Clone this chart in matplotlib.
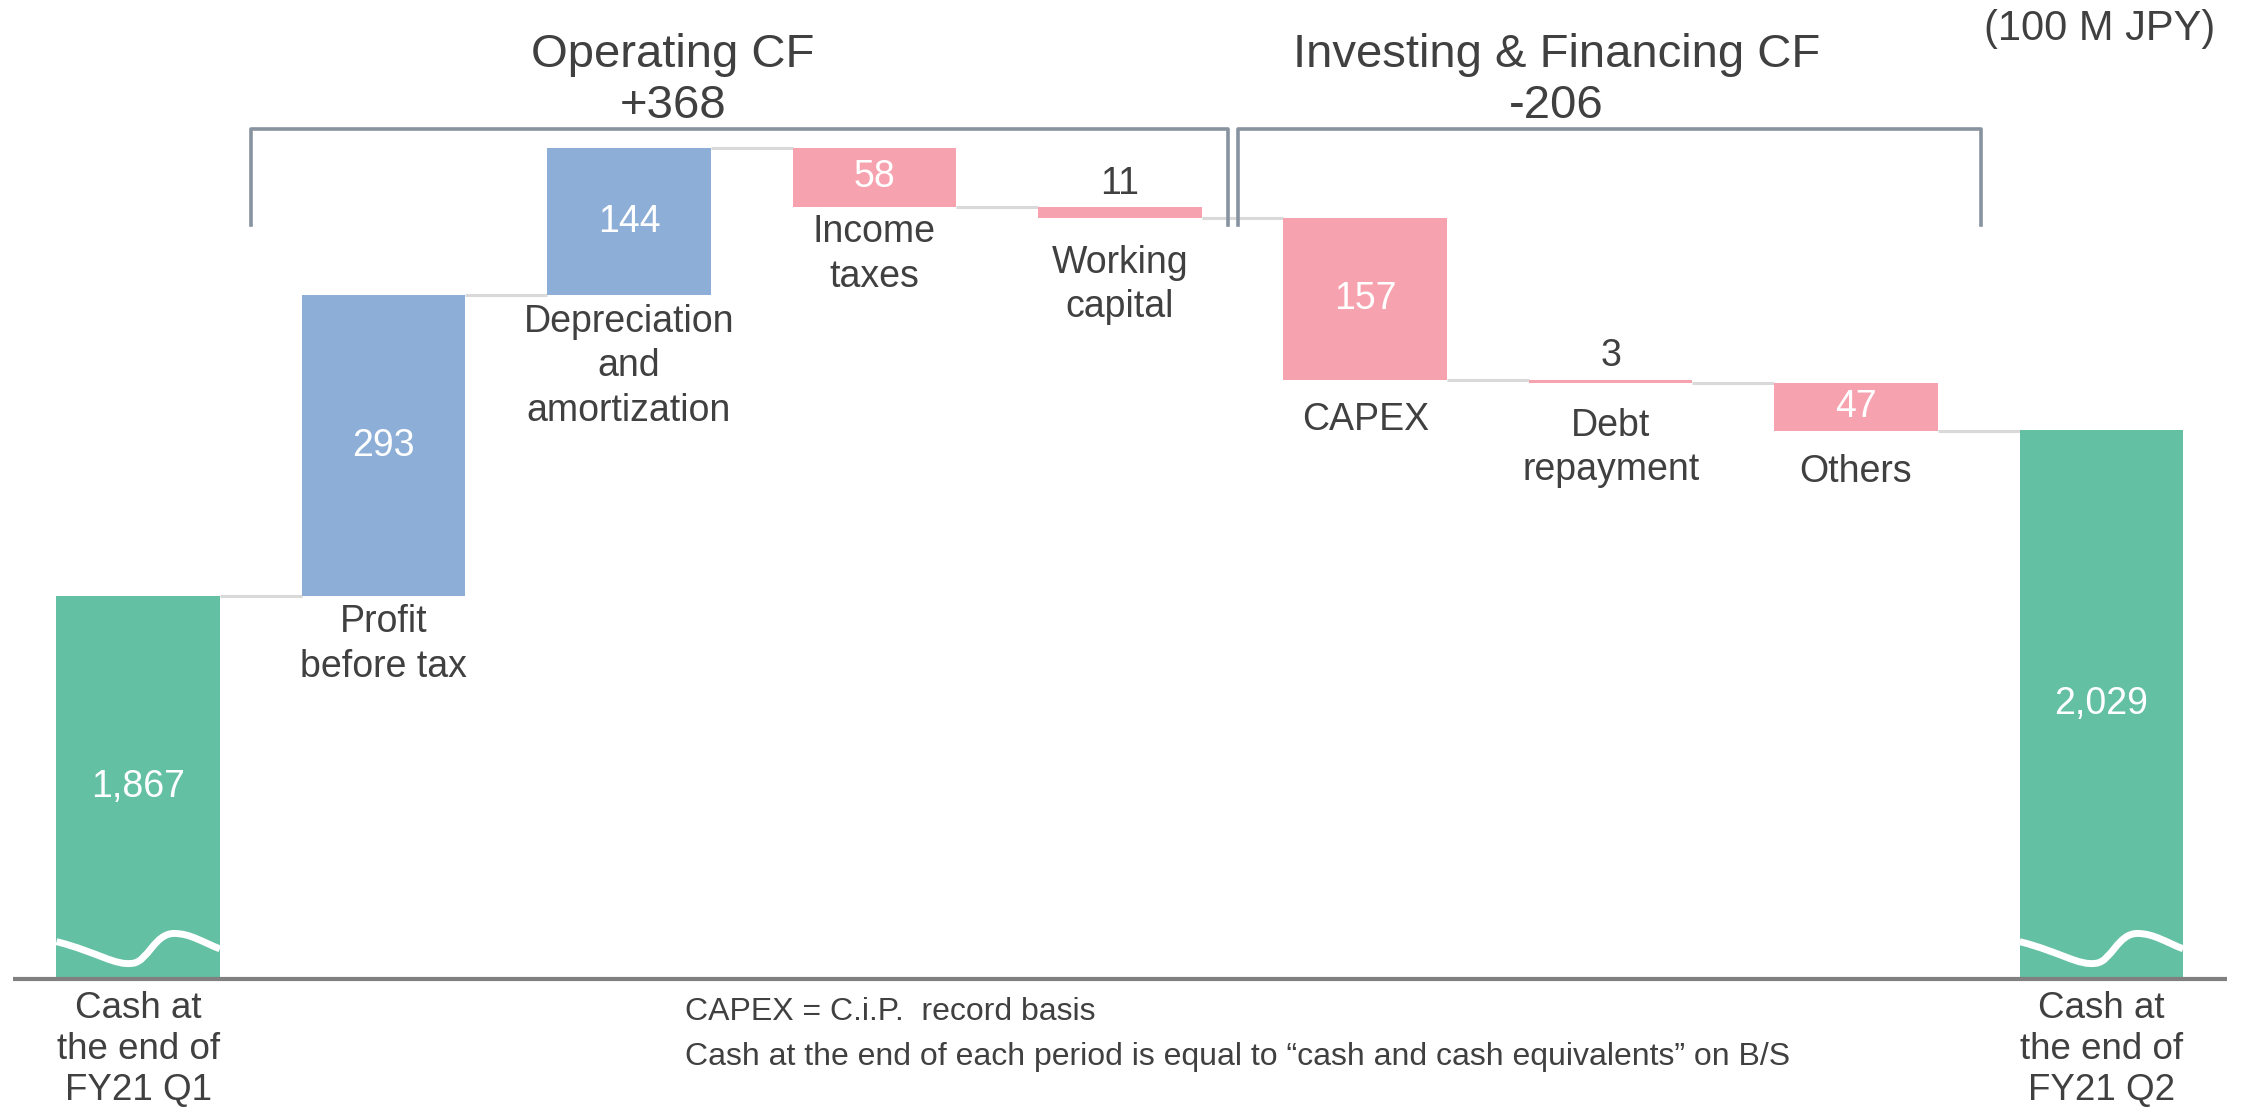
import matplotlib
matplotlib.use('Agg')
import matplotlib.pyplot as plt
from matplotlib.path import Path
from matplotlib.patches import PathPatch
import numpy as np

plt.rcParams['font.family'] = ['Liberation Sans', 'DejaVu Sans']

# data
categories = ['Cash at\nthe end of\nFY21 Q1', 'Profit\nbefore tax', 'Depreciation\nand\namortization',
              'Income\ntaxes', 'Working\ncapital', 'CAPEX', 'Debt\nrepayment', 'Others',
              'Cash at\nthe end of\nFY21 Q2']
values = [1867, 293, 144, -58, -11, -157, -3, -47, 2029]
value_labels = ['1,867', '293', '144', '58', '11', '157', '3', '47', '2,029']
kinds = ['total', 'up', 'up', 'down', 'down', 'down', 'down', 'down', 'total']
groups = [('Operating CF\n+368', 1, 4), ('Investing & Financing CF\n-206', 5, 7)]
unit_label = '(100 M JPY)'
notes = ['CAPEX = C.i.P.  record basis',
         'Cash at the end of each period is equal to \u201ccash and cash equivalents\u201d on B/S']

green = '#64C0A3'
blue = '#8DAFD7'
pink = '#F7A3AF'
txt = '#404040'
bracket_c = '#8893A0'
conn_c = '#D9D9D9'

base = 1494
width = 0.666

fig = plt.figure(figsize=(22.46, 11.15), dpi=100)
ax = fig.add_axes([0, 0, 1, 1])
ax.set_xlim(-0.563, 8.589)
ax.set_ylim(1361, 2448)
ax.axis('off')

x = np.arange(len(values))
bottoms, tops = [], []
run = 0
for v, k in zip(values, kinds):
    if k == 'total':
        bottoms.append(base); tops.append(v); run = v
    else:
        lo, hi = sorted([run, run + v])
        bottoms.append(lo); tops.append(hi); run += v

colors = [green if k == 'total' else (blue if k == 'up' else pink) for k in kinds]
heights = [t - b for t, b in zip(tops, bottoms)]
ax.bar(x, heights, bottom=bottoms, width=width, color=colors, zorder=2)

# connectors
levels = []
run = 0
for v, k in zip(values, kinds):
    run = v if k == 'total' else run + v
    levels.append(run)
for i in range(len(values) - 1):
    ax.plot([x[i] + width / 2, x[i + 1] - width / 2], [levels[i], levels[i]],
            color=conn_c, lw=2.2, zorder=1, solid_capstyle='butt')

# baseline
ax.plot([-0.51, 8.51], [base, base], color='#808080', lw=3, zorder=3, solid_capstyle='butt')

# broken-axis wave on total bars
for i in [0, len(values) - 1]:
    x0 = x[i] - width / 2
    pts = [(0, 36), (0.25, 26), (0.36, 12), (0.47, 15),
           (0.56, 17), (0.6, 44), (0.72, 44),
           (0.82, 44), (0.9, 35), (1.0, 29)]
    verts = [(x0 + u * width, base + h) for u, h in pts]
    codes = [Path.MOVETO] + [Path.CURVE4] * 9
    ax.add_patch(PathPatch(Path(verts, codes), fill=False, edgecolor='white', lw=5, zorder=4))

# value labels
for i, (lab, k) in enumerate(zip(value_labels, kinds)):
    if heights[i] < 20:
        ax.annotate(lab, (x[i], tops[i]), xytext=(0, 4), textcoords='offset points',
                    ha='center', va='bottom', fontsize=27, color=txt)
    else:
        ax.text(x[i], (bottoms[i] + tops[i]) / 2, lab, ha='center', va='center',
                fontsize=27, color='white', zorder=5)

# category labels
gaps = [9, 6, 6, 5, 19, 16, 18, 17, 9]
for i, cat in enumerate(categories):
    total = kinds[i] == 'total'
    ax.annotate(cat, (x[i], bottoms[i]), xytext=(0, -gaps[i]), textcoords='offset points',
                ha='center', va='top', fontsize=26.5 if total else 27, color=txt,
                linespacing=1.22 if total else 1.3)

# group brackets
top_y, leg_y = 2322, 2229
spans = [(0.458, 4.439), (4.48, 7.51)]
title_x = [2.18, 5.78]
for (title, a, b), (l, r), tx in zip(groups, spans, title_x):
    ax.plot([l, l, r, r], [leg_y, top_y, top_y, leg_y], color=bracket_c, lw=2.6, zorder=3)
    ax.text(tx, 2369.5, title, ha='center', va='center', fontsize=34, color=txt, linespacing=1.22)

ax.text(7.994, 2420, unit_label, ha='center', va='center', fontsize=30, color=txt)
ax.text(2.228, 1461, notes[0], ha='left', va='center', fontsize=23, color=txt)
ax.text(2.228, 1418, notes[1], ha='left', va='center', fontsize=23, color=txt)

fig.savefig('out.png', dpi=100)
